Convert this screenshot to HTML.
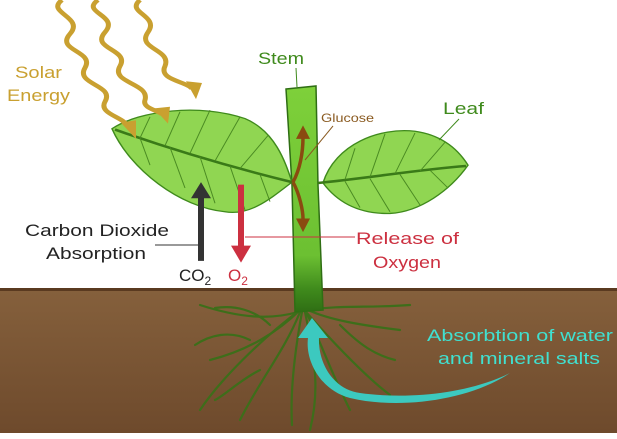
<!DOCTYPE html>
<html><head><meta charset="utf-8"><style>
html,body{margin:0;padding:0;background:#fff;}
svg{display:block;}
text{font-family:"Liberation Sans",sans-serif;}
</style></head><body>
<svg width="617" height="439" viewBox="0 0 617 439" xmlns="http://www.w3.org/2000/svg">
<defs>
<linearGradient id="soil" x1="0" y1="0" x2="0" y2="1">
<stop offset="0" stop-color="#85603c"/><stop offset="1" stop-color="#6e4a2c"/>
</linearGradient>
<linearGradient id="stemg" x1="0" y1="0" x2="0" y2="1">
<stop offset="0" stop-color="#7ed03a"/><stop offset="0.75" stop-color="#6cc032"/><stop offset="0.9" stop-color="#3f8a1c"/><stop offset="1" stop-color="#2f6e14"/>
</linearGradient>
</defs>
<rect x="0" y="0" width="617" height="439" fill="#fff"/>
<rect x="0" y="290" width="617" height="143" fill="url(#soil)"/>
<rect x="0" y="288" width="617" height="3" fill="#5a3a20"/>
<!-- roots -->
<g stroke="#3d6e1a" stroke-width="2.2" fill="none" stroke-linecap="round">
<path d="M300,310 C280,330 250,350 210,360"/>
<path d="M298,312 C270,320 240,318 200,305"/>
<path d="M300,312 C285,350 260,380 240,420"/>
<path d="M302,312 C295,350 290,390 292,425"/>
<path d="M306,312 C320,340 330,370 350,410"/>
<path d="M308,310 C330,320 360,325 400,330"/>
<path d="M308,310 C340,305 370,308 410,305"/>
<path d="M300,310 C260,340 220,380 200,410"/>
<path d="M305,312 C315,360 320,390 310,430"/>
<path d="M306,312 C340,350 370,380 390,395"/>
<path d="M250,340 C230,330 210,335 195,345"/>
<path d="M260,370 C240,380 225,395 215,400"/>
<path d="M340,325 C360,345 375,355 395,360"/>
<path d="M270,325 C255,310 235,305 215,308"/>
</g>
<!-- stem -->
<path d="M286,89 L316,86 L318,185 L323,310 L295,312 L292,185 Z" fill="url(#stemg)" stroke="#2f6e14" stroke-width="1.5"/>
<g transform="scale(1,0.847)">
<!-- left leaf -->
<path d="M112,152 C140,130 200,122 245,140 C275,155 285,190 292,215 C270,235 250,255 225,250 C180,245 130,200 112,152 Z" fill="#90d652" stroke="#3f8a1c" stroke-width="1.5"/>
<path d="M115,153 C180,180 240,200 292,215" stroke="#3a7a18" stroke-width="3" fill="none"/>
<g stroke="#4a8a22" stroke-width="1" fill="none">
<path d="M140,163 L150,138"/><path d="M165,172 L180,132"/><path d="M190,181 L210,130"/><path d="M215,190 L240,138"/><path d="M240,199 L268,160"/>
<path d="M140,163 L150,195"/><path d="M170,174 L185,222"/><path d="M200,185 L215,240"/><path d="M230,196 L245,248"/><path d="M260,206 L270,238"/>
</g>
<!-- right leaf -->
<path d="M323,216 C335,170 380,150 415,155 C445,160 460,180 468,195 C450,225 420,250 390,252 C355,253 335,235 323,216 Z" fill="#90d652" stroke="#3f8a1c" stroke-width="1.5"/>
<path d="M318,216 C370,210 420,200 466,196" stroke="#3a7a18" stroke-width="3" fill="none"/>
<g stroke="#4a8a22" stroke-width="1" fill="none">
<path d="M345,212 L355,175"/><path d="M370,209 L385,158"/><path d="M395,205 L415,157"/><path d="M420,202 L445,168"/>
<path d="M345,214 L360,245"/><path d="M370,211 L390,250"/><path d="M400,206 L420,242"/><path d="M430,201 L448,222"/>
</g>
<!-- glucose arrows -->
<path d="M293,215 C300,200 303,180 303,162" stroke="#8a4a10" stroke-width="3.5" fill="none"/>
<path d="M303,148 L296,164 L310,164 Z" fill="#8a4a10"/>
<path d="M293,215 C300,230 303,250 303,258" stroke="#8a4a10" stroke-width="3.5" fill="none"/>
<path d="M303,274 L296,258 L310,258 Z" fill="#8a4a10"/>
<!-- CO2 arrow -->
<rect x="198" y="230" width="6" height="78" fill="#333"/>
<path d="M191,234 L201,215 L211,234 Z" fill="#333"/>
<!-- O2 arrow -->
<rect x="238" y="218" width="6" height="78" fill="#cc3040"/>
<path d="M231,290 L241,310 L251,290 Z" fill="#cc3040"/>
<!-- solar waves -->
<g stroke="#c9a030" stroke-width="5" fill="none">
<path d="M62,0 C45,15 85,20 70,40 C55,60 95,60 85,80 C75,100 115,100 105,120 C98,135 125,138 128,150"/>
<path d="M98,0 C80,15 120,18 105,38 C90,58 130,58 120,78 C110,98 150,98 145,118 C142,128 158,130 162,135"/>
<path d="M140,0 C125,15 160,18 148,38 C136,58 172,58 165,78 C158,95 188,96 192,105"/>
</g>
<path d="M121,145 L136,142 L136,164 Z" fill="#c9a030"/>
<path d="M154,128 L170,126 L168,146 Z" fill="#c9a030"/>
<path d="M186,96 L202,98 L196,117 Z" fill="#c9a030"/>
</g>
<!-- labels & leader lines -->
<line x1="305" y1="160" x2="333" y2="126" stroke="#8a5a20" stroke-width="1"/>
<text x="321" y="122" font-size="12" fill="#8a5a20" textLength="53" lengthAdjust="spacingAndGlyphs">Glucose</text>
<text x="258" y="64" font-size="17" fill="#3f8a1c" textLength="46" lengthAdjust="spacingAndGlyphs">Stem</text>
<line x1="296" y1="68" x2="297" y2="87" stroke="#3f8a1c" stroke-width="1"/>
<text x="443" y="114" font-size="17" fill="#3f8a1c" textLength="41" lengthAdjust="spacingAndGlyphs">Leaf</text>
<line x1="459" y1="119" x2="439" y2="140" stroke="#3f8a1c" stroke-width="1"/>
<line x1="155" y1="245" x2="198" y2="245" stroke="#333" stroke-width="1"/>
<text x="25" y="236" font-size="17" fill="#222" textLength="144" lengthAdjust="spacingAndGlyphs">Carbon Dioxide</text>
<text x="46" y="259" font-size="17" fill="#222" textLength="100" lengthAdjust="spacingAndGlyphs">Absorption</text>
<text x="179" y="281" font-size="17" fill="#222">CO<tspan font-size="12" dy="4">2</tspan></text>
<line x1="245" y1="237" x2="355" y2="237" stroke="#cc3040" stroke-width="1"/>
<text x="228" y="281" font-size="17" fill="#cc3040">O<tspan font-size="12" dy="4">2</tspan></text>
<text x="356" y="244" font-size="17" fill="#cc3040" textLength="103" lengthAdjust="spacingAndGlyphs">Release of</text>
<text x="373" y="268" font-size="17" fill="#cc3040" textLength="68" lengthAdjust="spacingAndGlyphs">Oxygen</text>
<text x="15" y="78" font-size="17" fill="#c9a030" textLength="47" lengthAdjust="spacingAndGlyphs">Solar</text>
<text x="7" y="101" font-size="17" fill="#c9a030" textLength="63" lengthAdjust="spacingAndGlyphs">Energy</text>
<!-- cyan arrow -->
<path d="M510,373 C470,400 400,410 350,398 C320,390 305,360 308,338 L298,338 L312,318 L328,338 L319,338 C318,365 335,390 360,393 C410,400 470,393 510,373 Z" fill="#3cc9bf"/>
<text x="427" y="341" font-size="17" fill="#40e0d0" textLength="186" lengthAdjust="spacingAndGlyphs">Absorbtion of water</text>
<text x="438" y="364" font-size="17" fill="#40e0d0" textLength="162" lengthAdjust="spacingAndGlyphs">and mineral salts</text>
</svg>
</body></html>
